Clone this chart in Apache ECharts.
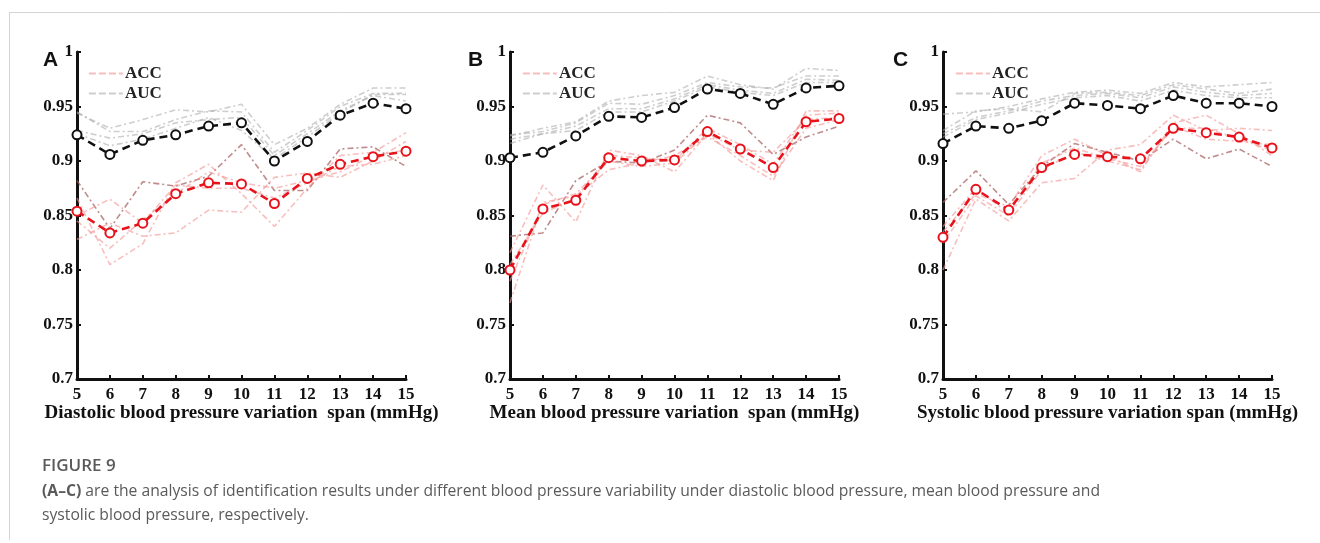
<!DOCTYPE html>
<html>
<head>
<meta charset="utf-8">
<script src="https://cdn.jsdelivr.net/npm/echarts@6/dist/echarts.min.js"></script>
<style>
html,body{margin:0;padding:0;background:#fff;}
#chart{width:1320px;height:543px;}
</style>
</head>
<body>
<div id="chart"></div>
<script>
// ---- data ----
const spans = [5, 6, 7, 8, 9, 10, 11, 12, 13, 14, 15];
const yTicks = [0.7, 0.75, 0.8, 0.85, 0.9, 0.95, 1];
const panelLabels = ['A', 'B', 'C'];
const axisTitles = [
  'Diastolic blood pressure variation  span (mmHg)',
  'Mean blood pressure variation  span (mmHg)',
  'Systolic blood pressure variation span (mmHg)'
];

// Panel A (diastolic)
const accMeanA = [0.854, 0.834, 0.843, 0.870, 0.880, 0.879, 0.861, 0.884, 0.897, 0.904, 0.909];
const aucMeanA = [0.924, 0.906, 0.919, 0.924, 0.932, 0.935, 0.900, 0.918, 0.942, 0.953, 0.948];
const accRunsA = [
  [0.882, 0.838, 0.881, 0.877, 0.886, 0.915, 0.873, 0.873, 0.911, 0.913, 0.895],
  [0.866, 0.805, 0.824, 0.880, 0.897, 0.870, 0.840, 0.875, 0.905, 0.908, 0.926],
  [0.828, 0.843, 0.831, 0.834, 0.855, 0.853, 0.885, 0.889, 0.885, 0.900, 0.918],
  [0.850, 0.865, 0.843, 0.878, 0.875, 0.875, 0.866, 0.880, 0.895, 0.897, 0.905],
  [0.845, 0.820, 0.846, 0.870, 0.890, 0.880, 0.875, 0.882, 0.890, 0.905, 0.910]
];
const aucRunsA = [
  [0.944, 0.930, 0.938, 0.947, 0.945, 0.952, 0.915, 0.930, 0.952, 0.967, 0.967],
  [0.945, 0.927, 0.927, 0.938, 0.946, 0.945, 0.908, 0.928, 0.950, 0.962, 0.962],
  [0.928, 0.921, 0.925, 0.935, 0.938, 0.940, 0.905, 0.925, 0.946, 0.960, 0.955],
  [0.925, 0.914, 0.920, 0.930, 0.940, 0.928, 0.902, 0.922, 0.944, 0.961, 0.961]
];

// Panel B (mean)
const accMeanB = [0.800, 0.856, 0.864, 0.903, 0.900, 0.901, 0.927, 0.911, 0.894, 0.936, 0.939];
const aucMeanB = [0.903, 0.908, 0.923, 0.941, 0.940, 0.949, 0.966, 0.962, 0.952, 0.967, 0.969];
const accRunsB = [
  [0.831, 0.834, 0.882, 0.900, 0.898, 0.910, 0.942, 0.935, 0.906, 0.922, 0.932],
  [0.816, 0.878, 0.844, 0.910, 0.905, 0.890, 0.925, 0.900, 0.882, 0.946, 0.946],
  [0.770, 0.862, 0.868, 0.892, 0.898, 0.905, 0.922, 0.905, 0.886, 0.930, 0.938],
  [0.805, 0.852, 0.866, 0.905, 0.903, 0.900, 0.930, 0.915, 0.897, 0.942, 0.944],
  [0.790, 0.860, 0.870, 0.900, 0.895, 0.898, 0.925, 0.910, 0.908, 0.938, 0.940]
];
const aucRunsB = [
  [0.923, 0.930, 0.936, 0.955, 0.960, 0.963, 0.978, 0.970, 0.966, 0.985, 0.983],
  [0.924, 0.927, 0.935, 0.953, 0.952, 0.960, 0.972, 0.968, 0.967, 0.978, 0.978],
  [0.920, 0.925, 0.932, 0.948, 0.948, 0.957, 0.970, 0.965, 0.962, 0.975, 0.974],
  [0.916, 0.925, 0.928, 0.945, 0.945, 0.955, 0.968, 0.963, 0.960, 0.972, 0.972]
];

// Panel C (systolic)
const accMeanC = [0.830, 0.874, 0.855, 0.894, 0.906, 0.904, 0.902, 0.930, 0.926, 0.922, 0.912];
const aucMeanC = [0.916, 0.932, 0.930, 0.937, 0.953, 0.951, 0.948, 0.960, 0.953, 0.953, 0.950];
const accRunsC = [
  [0.862, 0.891, 0.860, 0.895, 0.916, 0.908, 0.900, 0.920, 0.902, 0.911, 0.895],
  [0.800, 0.865, 0.845, 0.880, 0.884, 0.910, 0.915, 0.942, 0.928, 0.930, 0.928],
  [0.835, 0.870, 0.858, 0.905, 0.920, 0.905, 0.890, 0.935, 0.942, 0.925, 0.905],
  [0.840, 0.875, 0.852, 0.898, 0.912, 0.902, 0.895, 0.930, 0.930, 0.920, 0.910],
  [0.825, 0.868, 0.850, 0.892, 0.908, 0.900, 0.892, 0.932, 0.920, 0.918, 0.915]
];
const aucRunsC = [
  [0.943, 0.945, 0.950, 0.957, 0.963, 0.965, 0.962, 0.972, 0.968, 0.970, 0.972],
  [0.928, 0.946, 0.948, 0.945, 0.962, 0.963, 0.960, 0.970, 0.966, 0.962, 0.966],
  [0.925, 0.940, 0.946, 0.955, 0.960, 0.962, 0.958, 0.968, 0.963, 0.960, 0.962],
  [0.922, 0.938, 0.944, 0.952, 0.958, 0.960, 0.955, 0.965, 0.960, 0.958, 0.958]
];

const captionTitle = 'FIGURE 9';
const captionLine1 = '{b|(A\u2013C)} are the analysis of identification results under different blood pressure variability under diastolic blood pressure, mean blood pressure and';
const captionLine2 = 'systolic blood pressure, respectively.';

// ---- layout / styles ----
const panels = [
  { accMean: accMeanA, aucMean: aucMeanA, accRuns: accRunsA, aucRuns: aucRunsA, left: 77, right: 914, labelX: 38, legendX: 83 },
  { accMean: accMeanB, aucMean: aucMeanB, accRuns: accRunsB, aucRuns: aucRunsB, left: 510, right: 481, labelX: 463, legendX: 517 },
  { accMean: accMeanC, aucMean: aucMeanC, accRuns: accRunsC, aucRuns: aucRunsC, left: 943, right: 48, labelX: 888, legendX: 950 }
];
const serif = '"Liberation Serif", "Times New Roman", serif';
const pairs = arr => spans.map((x, i) => [x, arr[i]]);
const pink = 'rgba(242,150,150,0.62)';
const brown = 'rgba(165,95,95,0.72)';
const grey = 'rgba(165,165,165,0.55)';

const grids = [], xAxes = [], yAxes = [], series = [], legends = [], titles = [];

panels.forEach((p, k) => {
  grids.push({ left: p.left, right: p.right, top: 52, bottom: 164 });
  xAxes.push({
    type: 'value', gridIndex: k, min: 5, max: 15, interval: 1,
    name: axisTitles[k], nameLocation: 'middle', nameGap: 25, nameMoveOverlap: false,
    nameTextStyle: { fontFamily: serif, fontWeight: 'bold', fontSize: 19, color: '#111' },
    axisLine: { lineStyle: { color: '#111', width: 3 } },
    axisTick: { inside: true, length: 4, lineStyle: { color: '#111', width: 2 } },
    axisLabel: { fontFamily: serif, fontWeight: 'bold', fontSize: 17, color: '#111', margin: 7 },
    splitLine: { show: false }
  });
  yAxes.push({
    type: 'value', gridIndex: k, min: 0.7, max: 1, interval: 0.05,
    axisLine: { show: true, lineStyle: { color: '#111', width: 3 } },
    axisTick: { show: true, inside: true, length: 4, lineStyle: { color: '#111', width: 2 } },
    axisLabel: {
      fontFamily: serif, fontWeight: 'bold', fontSize: 17, color: '#111', margin: 4,
      formatter: v => { const t = yTicks.find(tv => Math.abs(tv - v) < 1e-6); return t === undefined ? '' : String(t); }
    },
    splitLine: { show: false }
  });
  p.aucRuns.forEach((run, j) => {
    series.push({
      name: j === 0 ? 'AUC' : 'AUC run ' + k + '-' + j, type: 'line', xAxisIndex: k, yAxisIndex: k,
      data: pairs(run), symbol: 'none', silent: true, z: 2,
      lineStyle: { color: grey, width: 1.6, type: [6, 3, 2, 3] }, itemStyle: { color: grey }
    });
  });
  p.accRuns.forEach((run, j) => {
    const c = j === 0 ? brown : pink;
    series.push({
      name: j === 1 ? 'ACC' : 'ACC run ' + k + '-' + j, type: 'line', xAxisIndex: k, yAxisIndex: k,
      data: pairs(run), symbol: 'none', silent: true, z: 2,
      lineStyle: { color: c, width: 1.6, type: [6, 3, 2, 3] }, itemStyle: { color: c }
    });
  });
  series.push({
    name: 'AUC mean', type: 'line', xAxisIndex: k, yAxisIndex: k, data: pairs(p.aucMean),
    symbol: 'emptyCircle', symbolSize: 9, z: 5,
    lineStyle: { color: '#111', width: 2.6, type: [8, 5] },
    itemStyle: { color: '#111', borderWidth: 2 }
  });
  series.push({
    name: 'ACC mean', type: 'line', xAxisIndex: k, yAxisIndex: k, data: pairs(p.accMean),
    symbol: 'emptyCircle', symbolSize: 9, z: 5,
    lineStyle: { color: '#e8121a', width: 2.6, type: [8, 5] },
    itemStyle: { color: '#e8121a', borderWidth: 2 }
  });
  legends.push({
    data: ['ACC', 'AUC'], orient: 'vertical', left: p.legendX, top: 60,
    itemWidth: 34, itemHeight: 14, itemGap: 3, selectedMode: false,
    itemStyle: { opacity: 0, borderWidth: 0 },
    lineStyle: { width: 1.8, type: [7, 3] },
    textStyle: { fontFamily: serif, fontWeight: 'bold', fontSize: 17, color: '#222', padding: [0, 0, 0, -3] }
  });
  titles.push({
    text: panelLabels[k], left: p.labelX, top: 45,
    textStyle: { fontFamily: '"Liberation Sans", Arial, sans-serif', fontWeight: 'bold', fontSize: 21, color: '#111' }
  });
});

const capFont = '"Open Sans", "Noto Sans", sans-serif';
const chart = echarts.init(document.getElementById('chart'), null, { renderer: 'canvas' });
chart.setOption({
  animation: false,
  backgroundColor: '#fff',
  title: titles,
  grid: grids,
  xAxis: xAxes,
  yAxis: yAxes,
  legend: legends,
  series: series,
  graphic: [
    { type: 'line', shape: { x1: 9, y1: 12.5, x2: 1320, y2: 12.5 }, style: { stroke: '#d4d4d4', lineWidth: 1 }, silent: true },
    { type: 'line', shape: { x1: 9.5, y1: 12, x2: 9.5, y2: 540 }, style: { stroke: '#d4d4d4', lineWidth: 1 }, silent: true },
    { type: 'text', x: 42, y: 466, style: { text: captionTitle, font: '600 17px ' + capFont, fill: '#5a5a5a', verticalAlign: 'middle' }, silent: true },
    { type: 'text', x: 42, y: 492, style: { text: captionLine1, font: '15.7px ' + capFont, fill: '#5a5a5a', verticalAlign: 'middle', rich: { b: { fontWeight: 'bold', fontFamily: capFont, fontSize: 15.7, fill: '#5a5a5a' } } }, silent: true },
    { type: 'text', x: 42, y: 516, style: { text: captionLine2, font: '15.7px ' + capFont, fill: '#5a5a5a', verticalAlign: 'middle' }, silent: true }
  ]
});
</script>
</body>
</html>
